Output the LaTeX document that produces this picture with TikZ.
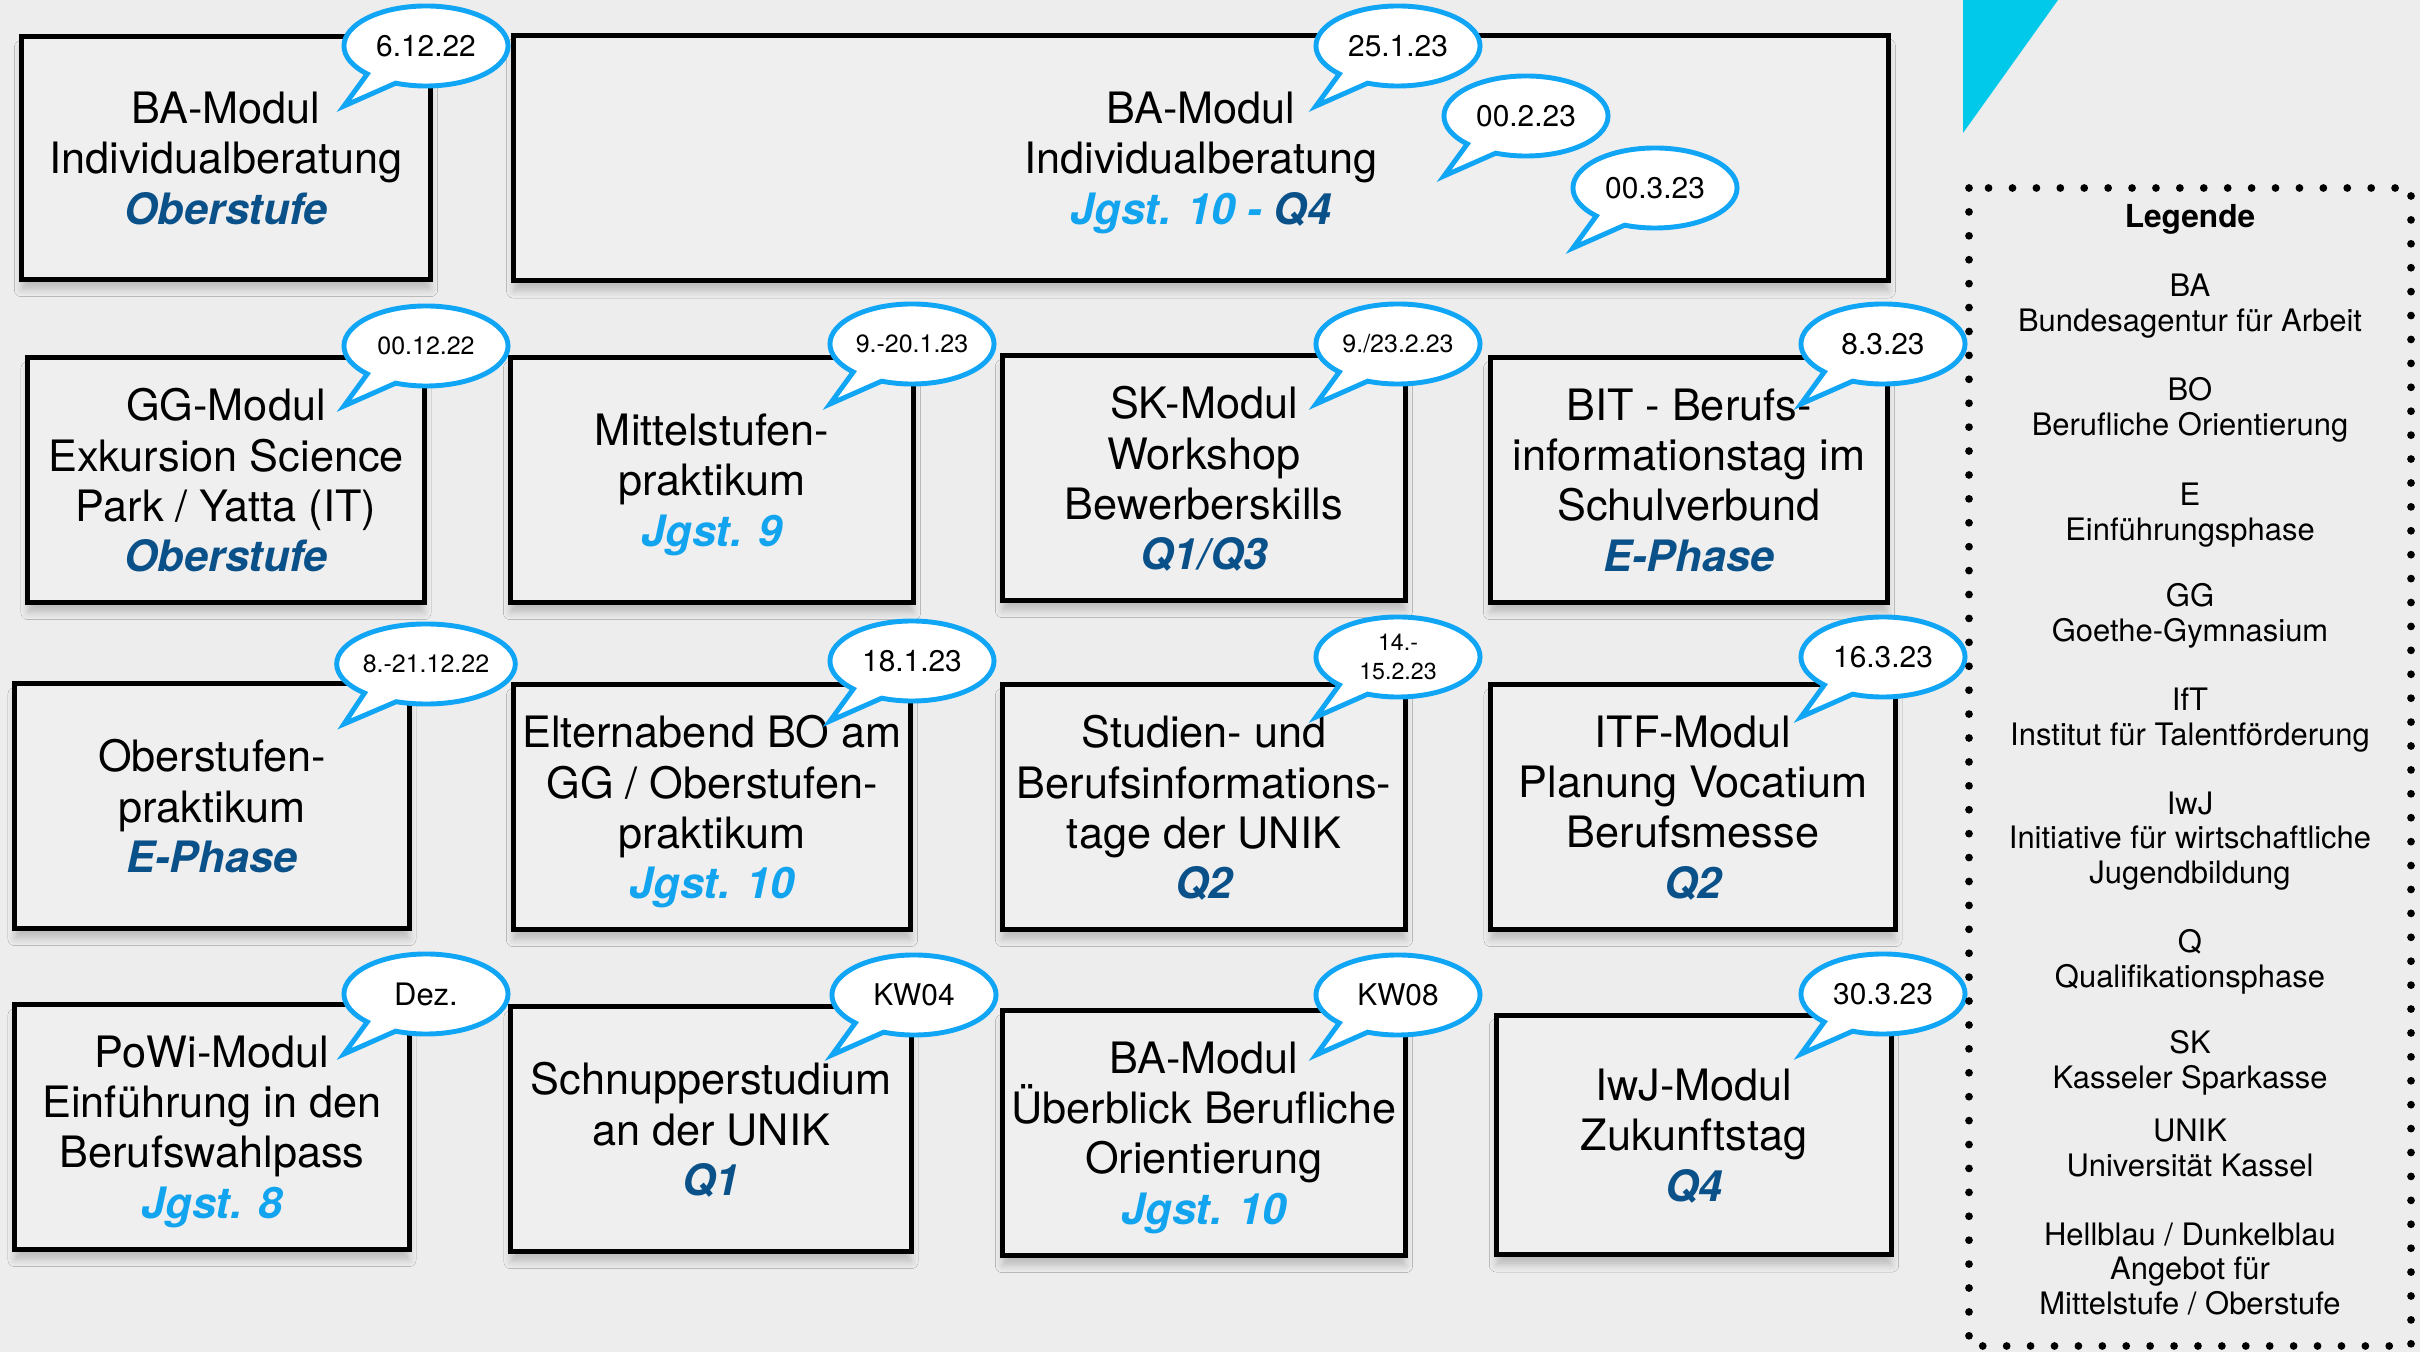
\documentclass[tikz,border=0pt]{standalone}
\usepackage{fontspec}
\setmainfont{TeX Gyre Heros}
\usepackage{xcolor}
\usetikzlibrary{shapes.callouts,shadows.blur}

\definecolor{hintergrund}{RGB}{237,237,237}
\definecolor{kasten}{RGB}{239,239,239}
\definecolor{hellblau}{RGB}{18,164,238}
\definecolor{dunkelblau}{RGB}{11,81,137}
\definecolor{blasenrand}{RGB}{16,165,245}
\definecolor{ecke}{RGB}{0,201,233}

\newcommand{\stufeH}[1]{{\bfseries\itshape\color{hellblau}#1}}
\newcommand{\stufeD}[1]{{\bfseries\itshape\color{dunkelblau}#1}}

\begin{document}
\begin{tikzpicture}[x=0.01cm, y=-0.01cm,
		modul/.style={draw=black, line width=1.4pt, fill=kasten, align=center,
			minimum height=2.44cm, inner sep=0pt, text depth=-2pt,
			font=\fontsize{12.3}{14.3}\selectfont,
			blur shadow={shadow xshift=0pt, shadow yshift=-3pt, shadow blur radius=2pt, shadow opacity=20}},
		bubble/.style={ellipse callout, draw=blasenrand, line width=1.4pt, fill=white,
			minimum width=1.64cm, minimum height=0.8cm, inner sep=0pt, align=center,
			callout pointer arc=24,
			font=\fontsize{8.5}{9}\selectfont},
		bubblesmall/.style={bubble, font=\fontsize{7.1}{8}\selectfont},
		legendtext/.style={align=center, inner sep=0pt, font=\fontsize{8.8}{9.9}\selectfont}]
		% Background
		\useasboundingbox (0, 0) rectangle (2420, 1352);
		\fill[hintergrund] (0, 0) rectangle (2420, 1352);
		\fill[ecke] (1963, 0) -- (2058, 0) -- (1963, 133) -- cycle;
		% Module boxes
		%% First row
		\node[modul, minimum width=4.09cm, minimum height=2.42cm] (ba1) at (226, 158) {BA-Modul\\Individualberatung\\\stufeD{Oberstufe}};
		\node[modul, minimum width=13.74cm, minimum height=2.45cm] (ba2) at (1201, 158) {BA-Modul\\Individualberatung\\\stufeH{Jgst. 10 -} \stufeD{Q4}};
		%% Second row
		\node[modul, minimum width=3.96cm] (gg) at (226, 480) {GG-Modul\\Exkursion Science\\Park / Yatta (IT)\\\stufeD{Oberstufe}};
		\node[modul, minimum width=4.03cm] (mittel) at (712, 480) {Mittelstufen-\\praktikum\\\stufeH{Jgst. 9}};
		\node[modul, minimum width=4.03cm] (sk) at (1204, 478) {SK-Modul\\Workshop\\Bewerberskills\\\stufeD{Q1/Q3}};
		\node[modul, minimum width=3.97cm] (bit) at (1689, 480) {BIT - Berufs-\\informationstag im\\Schulverbund\\\stufeD{E-Phase}};
		%% Third row
		\node[modul, minimum width=3.94cm] (ober) at (212, 806) {Oberstufen-\\praktikum\\\stufeD{E-Phase}};
		\node[modul, minimum width=3.97cm] (eltern) at (712, 807) {Elternabend BO am\\GG / Oberstufen-\\praktikum\\\stufeH{Jgst. 10}};
		\node[modul, minimum width=4.03cm] (studien) at (1204, 807) {Studien- und\\Berufsinformations-\\tage der UNIK\\\stufeD{Q2}};
		\node[modul, minimum width=4.04cm] (itf) at (1693, 807) {ITF-Modul\\Planung Vocatium\\Berufsmesse\\\stufeD{Q2}};
		%% Fourth row
		\node[modul, minimum width=3.94cm] (powi) at (212, 1127) {PoWi-Modul\\Einführung in den\\Berufswahlpass\\\stufeH{Jgst. 8}};
		\node[modul, minimum width=4.00cm] (schnupper) at (711, 1129) {Schnupperstudium\\an der UNIK\\\stufeD{Q1}};
		\node[modul, minimum width=4.03cm] (ba3) at (1204, 1133) {BA-Modul\\Überblick Berufliche\\Orientierung\\\stufeH{Jgst. 10}};
		\node[modul, minimum width=3.95cm, minimum height=2.39cm] (iwj) at (1694, 1135) {IwJ-Modul\\Zukunftstag\\\stufeD{Q4}};
		% Bubble tips
		\coordinate (t1) at (344, 106);
		\coordinate (t2) at (1316, 106);
		\coordinate (t3) at (1444, 176);
		\coordinate (t4) at (1573, 248);
		\coordinate (t5) at (344, 406);
		\coordinate (t6) at (830, 404);
		\coordinate (t7) at (1316, 404);
		\coordinate (t8) at (1801, 404);
		\coordinate (t9) at (344, 724);
		\coordinate (t10) at (830, 721);
		\coordinate (t11) at (1316, 717);
		\coordinate (t12) at (1801, 717);
		\coordinate (t13) at (344, 1054);
		\coordinate (t14) at (832, 1055);
		\coordinate (t15) at (1316, 1055);
		\coordinate (t16) at (1801, 1054);
		% Date bubbles
		%% First row
		\node[bubble, callout absolute pointer={(t1)}] (d1) at (426, 46) {6.12.22};
		\node[bubble, callout absolute pointer={(t2)}] (d2) at (1398, 46) {25.1.23};
		\node[bubble, callout absolute pointer={(t3)}] (d3) at (1526, 116) {00.2.23};
		\node[bubble, callout absolute pointer={(t4)}] (d4) at (1655, 188) {00.3.23};
		%% Second row
		\node[bubblesmall, callout absolute pointer={(t5)}] (d5) at (426, 346) {00.12.22};
		\node[bubblesmall, callout absolute pointer={(t6)}] (d6) at (912, 344) {9.-20.1.23};
		\node[bubblesmall, callout absolute pointer={(t7)}] (d7) at (1398, 344) {9./23.2.23};
		\node[bubble, callout absolute pointer={(t8)}] (d8) at (1883, 344) {8.3.23};
		%% Third row
		\node[bubblesmall, callout absolute pointer={(t9)}] (d9) at (426, 664) {8.-21.12.22};
		\node[bubble, callout absolute pointer={(t10)}] (d10) at (912, 661) {18.1.23};
		\node[bubblesmall, font=\fontsize{6.6}{8.2}\selectfont, callout absolute pointer={(t11)}] (d11) at (1398, 657) {14.-\\15.2.23};
		\node[bubble, callout absolute pointer={(t12)}] (d12) at (1883, 657) {16.3.23};
		%% Fourth row
		\node[bubble, font=\fontsize{8.8}{9}\selectfont, callout absolute pointer={(t13)}] (d13) at (426, 994) {Dez.};
		\node[bubble, callout absolute pointer={(t14)}] (d14) at (914, 995) {KW04};
		\node[bubble, callout absolute pointer={(t15)}] (d15) at (1398, 995) {KW08};
		\node[bubble, callout absolute pointer={(t16)}] (d16) at (1883, 994) {30.3.23};
		% Legend
		\draw[line width=2.2pt, line cap=round, dash pattern=on 0pt off 6.8pt] (1969, 188) rectangle (2411, 1346);
		\node[legendtext, font=\fontsize{9}{9.9}\selectfont\bfseries] (leg) at (2190, 219) {Legende};
		\node[legendtext] (lba) at (2190, 306) {BA\\Bundesagentur für Arbeit};
		\node[legendtext] (lbo) at (2190, 410) {BO\\Berufliche Orientierung};
		\node[legendtext] (le) at (2190, 515) {E\\Einführungsphase};
		\node[legendtext] (lgg) at (2190, 616) {GG\\Goethe-Gymnasium};
		\node[legendtext] (lift) at (2190, 720) {IfT\\Institut für Talentförderung};
		\node[legendtext] (liwj) at (2190, 841) {IwJ\\Initiative für wirtschaftliche\\Jugendbildung};
		\node[legendtext] (lq) at (2190, 962) {Q\\Qualifikationsphase};
		\node[legendtext] (lsk) at (2190, 1063) {SK\\Kasseler Sparkasse};
		\node[legendtext] (lunik) at (2190, 1148) {UNIK\\Universität Kassel};
		\node[legendtext] (lfarbe) at (2190, 1269) {Hellblau / Dunkelblau\\Angebot für\\Mittelstufe / Oberstufe};
	\end{tikzpicture}
\end{document}
